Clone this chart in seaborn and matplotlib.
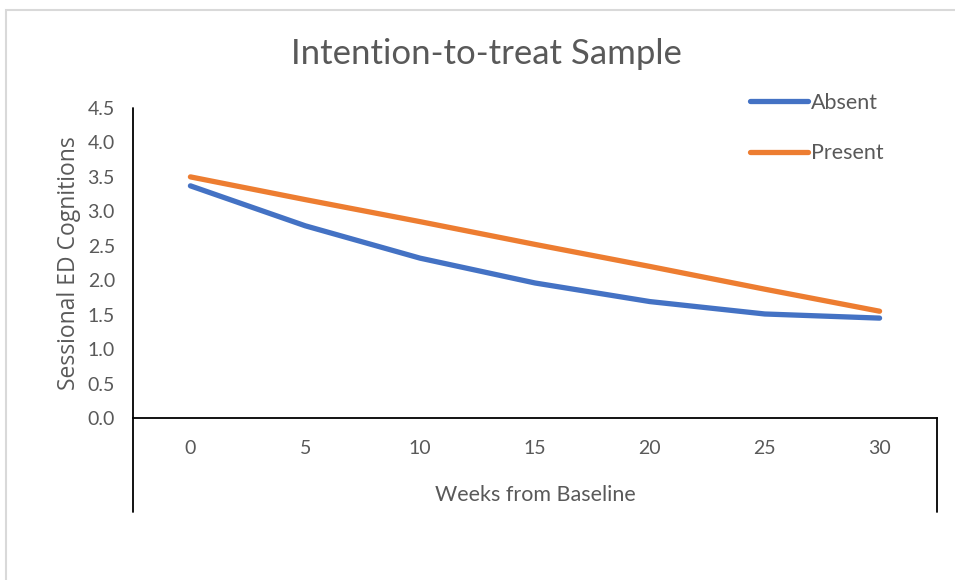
import numpy as np
import pandas as pd
import matplotlib.pyplot as plt
import seaborn as sns
from matplotlib.lines import Line2D
from matplotlib.patches import Rectangle

weeks = [0, 5, 10, 15, 20, 25, 30]
absent = [3.37, 2.79, 2.32, 1.96, 1.69, 1.51, 1.45]
present = [3.50, 3.17, 2.85, 2.52, 2.20, 1.87, 1.55]
groups = ['Absent', 'Present']
y_ticks = [0.0, 0.5, 1.0, 1.5, 2.0, 2.5, 3.0, 3.5, 4.0, 4.5]

data = pd.DataFrame({
    'week': weeks * 2,
    'score': absent + present,
    'group': [groups[0]] * len(weeks) + [groups[1]] * len(weeks),
})

sns.set_style("white")
plt.rcParams['font.family'] = ['Lato', 'DejaVu Sans']
grey = '#595959'

fig = plt.figure(figsize=(9.55, 5.8), dpi=100)
ax = fig.add_axes([133 / 955, 1 - 418 / 580, 804 / 955, 310 / 580])

sns.lineplot(data=data, x='week', y='score', hue='group',
             palette={'Absent': '#4472C4', 'Present': '#ED7D31'},
             linewidth=3.8, ax=ax, legend=False,
             solid_capstyle='round', solid_joinstyle='round')

ax.set_xlim(-2.5, 32.5)
ax.set_ylim(0, 4.5)
ax.set_xticks(weeks)
ax.set_xticklabels([str(w) for w in weeks])
ax.set_yticks(y_ticks)
ax.set_yticklabels([f'{v:.1f}' for v in y_ticks])
ax.tick_params(axis='both', length=0, labelsize=14, colors=grey)
ax.tick_params(axis='x', pad=16)
ax.tick_params(axis='y', pad=13)

for s in ['top', 'right']:
    ax.spines[s].set_visible(False)
ax.spines['bottom'].set_color('black')
ax.spines['bottom'].set_linewidth(1.3)
ax.spines['left'].set_visible(False)

# Excel style frame lines: left axis runs below the plot, right edge drops too
ext = -(512 - 418) / 310
for x0, y1 in [(0, 1), (1, 0)]:
    ax.add_line(Line2D([x0, x0], [ext, y1], transform=ax.transAxes,
                       color='black', lw=1.3, clip_on=False))

ax.set_xlabel('Weeks from Baseline', fontsize=15.5, color=grey, labelpad=20)
ax.set_ylabel('Sessional ED Cognitions', fontsize=16.5, color=grey,
              family=['Open Sans', 'DejaVu Sans'], labelpad=5)

fig.text(486 / 955, 1 - 54 / 580, 'Intention-to-treat Sample',
         ha='center', va='center', fontsize=25, color=grey)

handles = [Line2D([], [], color='#4472C4', lw=3.8, solid_capstyle='round'),
           Line2D([], [], color='#ED7D31', lw=3.8, solid_capstyle='round')]
fig.legend(handles, groups, loc='upper left',
           bbox_to_anchor=(750 / 955, 1 - 93 / 580), frameon=False,
           fontsize=15.5, labelcolor=grey, handlelength=2.7,
           handletextpad=0.15, labelspacing=1.4, borderpad=0,
           borderaxespad=0)

fig.patches.append(Rectangle((6 / 955, -0.1), 2, 1 - 10 / 580 + 0.1,
                             transform=fig.transFigure, fill=False,
                             edgecolor='#D9D9D9', lw=1.5))

fig.savefig('out.png', dpi=100)
